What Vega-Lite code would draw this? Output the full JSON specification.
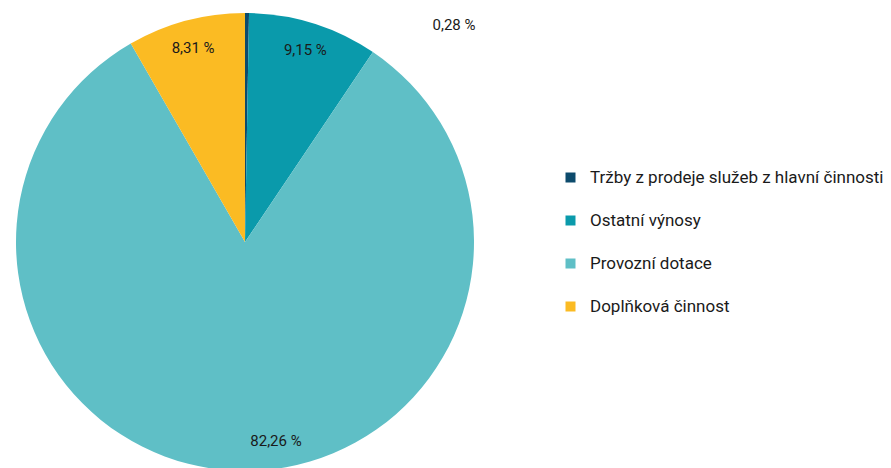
{
  "$schema": "https://vega.github.io/schema/vega-lite/v6.json",
  "width": 490,
  "height": 484,
  "padding": 0,
  "background": "white",
  "config": {"view": {"stroke": null}, "font": "Roboto"},
  "data": {"values": [
    {"kategorie": "Tržby z prodeje služeb z hlavní činnosti", "podil": 0.28, "label": "0,28 %", "poradi": 1},
    {"kategorie": "Ostatní výnosy", "podil": 9.15, "label": "9,15 %", "poradi": 2},
    {"kategorie": "Provozní dotace", "podil": 82.26, "label": "82,26 %", "poradi": 3},
    {"kategorie": "Doplňková činnost", "podil": 8.31, "label": "8,31 %", "poradi": 4}
  ]},
  "encoding": {
    "theta": {"field": "podil", "type": "quantitative", "stack": true},
    "order": {"field": "poradi", "type": "quantitative"}
  },
  "layer": [
    {
      "mark": {"type": "arc", "radius": 229},
      "encoding": {
        "color": {
          "field": "kategorie",
          "type": "nominal",
          "sort": ["Tržby z prodeje služeb z hlavní činnosti", "Ostatní výnosy", "Provozní dotace", "Doplňková činnost"],
          "scale": {
            "domain": ["Tržby z prodeje služeb z hlavní činnosti", "Ostatní výnosy", "Provozní dotace", "Doplňková činnost"],
            "range": ["#0d4b6c", "#0a9aab", "#5fbfc6", "#fbbb23"]
          },
          "legend": {
            "title": null,
            "orient": "none",
            "legendX": 562,
            "legendY": 169,
            "symbolType": "square",
            "symbolSize": 100,
            "symbolStrokeWidth": 0,
            "labelFontSize": 17,
            "labelColor": "#1a1a1a",
            "labelOffset": 11,
            "rowPadding": 25,
            "labelLimit": 400
          }
        }
      }
    },
    {
      "mark": {"type": "text", "radius": 201, "fontSize": 15, "color": "#1a1a1a"},
      "encoding": {"text": {"condition": {"test": "datum.poradi == 2 || datum.poradi == 4", "field": "label"}, "value": ""}}
    },
    {
      "mark": {"type": "text", "radius": 199, "fontSize": 15, "color": "#1a1a1a", "dx": 38},
      "encoding": {"text": {"condition": {"test": "datum.poradi == 3", "field": "label"}, "value": ""}}
    },
    {
      "mark": {"type": "text", "radius": 229, "fontSize": 15, "color": "#1a1a1a", "dx": 207, "dy": 12},
      "encoding": {"text": {"condition": {"test": "datum.poradi == 1", "field": "label"}, "value": ""}}
    }
  ]
}
